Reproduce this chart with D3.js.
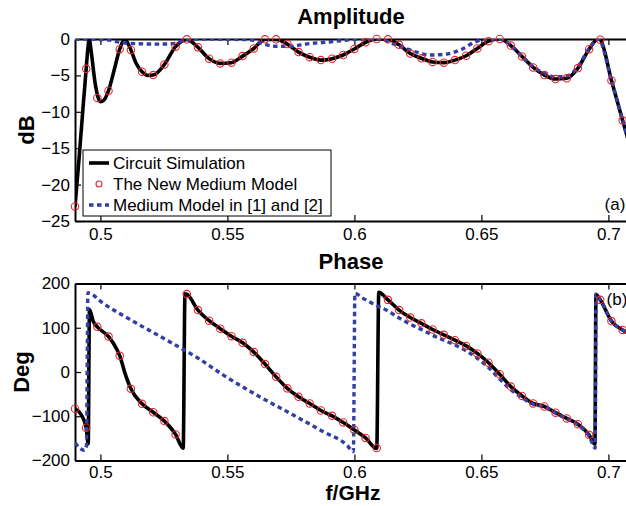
<!DOCTYPE html>
<html>
<head>
<meta charset="utf-8">
<script src="https://cdn.jsdelivr.net/npm/d3@7"></script>
<style>
  body { margin: 0; background: #fff; }
  svg { display: block; font-family: "Liberation Sans", Arial, sans-serif; }
</style>
</head>
<body>
<div id="chart"></div>
<script>
// sample grid of the new medium model (red circles)
var gridFreq = [0.4900, 0.4944, 0.4988, 0.5032, 0.5076, 0.5120, 0.5164, 0.5208, 0.5252, 0.5296,
    0.5340, 0.5384, 0.5428, 0.5472, 0.5516, 0.5560, 0.5604, 0.5648, 0.5692, 0.5736,
    0.5780, 0.5824, 0.5868, 0.5912, 0.5956, 0.6000, 0.6044, 0.6088, 0.6132, 0.6176,
    0.6220, 0.6264, 0.6308, 0.6352, 0.6396, 0.6440, 0.6484, 0.6528, 0.6572, 0.6616,
    0.6660, 0.6704, 0.6748, 0.6792, 0.6836, 0.6880, 0.6924, 0.6968, 0.7012, 0.7056, 0.7100];
var newAmp = [-23.0, -4.1, -8.1, -7.1, -1.4, -1.5, -4.5, -4.95, -3.5, -1.05,
    -0.05, -1.15, -2.7, -3.35, -3.25, -2.35, -1.3, -0.05, -0.05, -0.7,
    -1.8, -2.5, -2.9, -2.7, -2.2, -1.37, -0.45, 0, -0.05, -0.8,
    -2.0, -2.65, -3.15, -3.25, -2.9, -2.3, -1.3, -0.3, 0, -0.9,
    -2.4, -3.9, -4.95, -5.5, -5.4, -4.0, -1.4, -0.1, -5.7, -11.2, -16.5];
var newPhase = [-83, -126, 102, 80, 37, -38, -72, -91, -111, -141,
    176, 140, 116, 98, 81, 66, 45, 18, -11, -37,
    -56, -71, -87, -99, -114, -131, -149, -172, 163, 140,
    123, 110, 96, 84, 72, 59, 42, 21, -5, -33,
    -54, -71, -78, -92, -105, -118, -142, 163, 115, 95, 82];

// circuit simulation (black)
var circFreqA = [0.4900, 0.4916, 0.4931, 0.4944, 0.4951, 0.4956, 0.4963, 0.4979, 0.5000, 0.5014,
    0.5032, 0.5054, 0.5076, 0.5095, 0.5120, 0.5140, 0.5164, 0.5187, 0.5208, 0.5252,
    0.5296, 0.5340, 0.5384, 0.5428, 0.5472, 0.5516, 0.5560, 0.5604, 0.5648, 0.5692,
    0.5736, 0.5780, 0.5824, 0.5868, 0.5912, 0.5956, 0.6000, 0.6044, 0.6088, 0.6132,
    0.6176, 0.6220, 0.6264, 0.6308, 0.6352, 0.6396, 0.6440, 0.6484, 0.6528, 0.6572,
    0.6616, 0.6660, 0.6704, 0.6748, 0.6792, 0.6836, 0.6880, 0.6924, 0.6960, 0.6968,
    0.7012, 0.7056, 0.7100];
var circAmp = [-23.0, -16.4, -9.7, -4.1, -1.2, 0, -1.5, -6.0, -8.6, -8.4,
    -7.1, -4.3, -1.4, 0, -1.5, -3.3, -4.5, -5.0, -4.95, -3.5,
    -1.05, -0.05, -1.15, -2.7, -3.35, -3.25, -2.35, -1.3, -0.05, -0.05,
    -0.7, -1.8, -2.5, -2.9, -2.7, -2.2, -1.37, -0.45, 0, -0.05,
    -0.8, -2.0, -2.65, -3.15, -3.25, -2.9, -2.3, -1.3, -0.3, 0,
    -0.9, -2.4, -3.9, -4.95, -5.5, -5.4, -4.0, -1.4, 0, -0.1,
    -5.7, -11.2, -16.5];
var circFreqP = [0.4900, 0.4920, 0.4944, 0.4952, 0.4957, 0.4972, 0.4988, 0.5032, 0.5051, 0.5076,
    0.5097, 0.5120, 0.5164, 0.5208, 0.5252, 0.5296, 0.5326, 0.5333, 0.5340, 0.5384,
    0.5428, 0.5472, 0.5516, 0.5560, 0.5604, 0.5648, 0.5692, 0.5736, 0.5780, 0.5824,
    0.5868, 0.5912, 0.5956, 0.6000, 0.6044, 0.6088, 0.6096, 0.6132, 0.6176, 0.6220,
    0.6264, 0.6308, 0.6352, 0.6396, 0.6440, 0.6484, 0.6528, 0.6572, 0.6616, 0.6660,
    0.6704, 0.6748, 0.6792, 0.6836, 0.6880, 0.6924, 0.6947, 0.6951, 0.6968, 0.7012,
    0.7056, 0.7100];
var circPhase = [-83, -93, -126, -162, 141, 114, 102, 80, 65, 37,
    -3, -38, -72, -91, -111, -141, -172, 177, 176, 140,
    116, 98, 81, 66, 45, 18, -11, -37, -56, -71,
    -87, -99, -114, -131, -149, -173, 180, 163, 140, 123,
    110, 96, 84, 72, 59, 42, 21, -5, -33, -54,
    -71, -78, -92, -105, -118, -142, -163, 175, 163, 115,
    95, 82];

// medium model in [1] and [2] (blue dashed)
var refFreqA = [0.4900, 0.5026, 0.5084, 0.5144, 0.5235, 0.5294, 0.5325, 0.5352, 0.5589, 0.5636,
    0.5687, 0.5746, 0.5806, 0.5916, 0.6002, 0.6101, 0.6148, 0.6219, 0.6298, 0.6357,
    0.6417, 0.6476, 0.6522, 0.6569, 0.6616, 0.6660, 0.6704, 0.6748, 0.6792, 0.6836,
    0.6880, 0.6924, 0.6960, 0.7012, 0.7056, 0.7100];
var refAmp = [0, -0.1, -0.5, -0.65, -0.7, -0.6, -0.2, 0, -0.1, -0.6,
    -1.0, -1.0, -0.7, -0.35, -0.05, 0, -0.6, -1.5, -2.2, -2.1,
    -1.5, -0.4, 0, 0, -0.9, -2.4, -3.8, -4.7, -5.2, -5.1,
    -3.8, -1.3, 0, -5.7, -11.2, -16.5];
var refFreqP = [0.4900, 0.4937, 0.4945, 0.4951, 0.5011, 0.5143, 0.5274, 0.5385, 0.5484, 0.5615,
    0.5746, 0.5878, 0.5970, 0.5996, 0.6002, 0.6030, 0.6080, 0.6132, 0.6176, 0.6220,
    0.6264, 0.6308, 0.6352, 0.6396, 0.6440, 0.6484, 0.6528, 0.6572, 0.6616, 0.6660,
    0.6704, 0.6748, 0.6792, 0.6836, 0.6880, 0.6924, 0.6948, 0.6951, 0.6968, 0.7012,
    0.7056, 0.7100];
var refPhase = [-160, -177, -168, 179, 155, 110, 68, 31, -7, -52,
    -93, -135, -165, -180, 178, 168, 152, 138, 122, 108,
    96, 83, 72, 61, 48, 31, 10, -16, -40, -58,
    -73, -79, -93, -106, -120, -145, -172, 176, 163, 115,
    95, 82];

var xTicks = [0.5, 0.55, 0.6, 0.65, 0.7];
var ampTicks = [0, -5, -10, -15, -20, -25];
var phaseTicks = [-200, -100, 0, 100, 200];
var legendNames = ["Circuit Simulation", "The New Medium Model", "Medium Model in [1] and [2]"];

function init() {
    const w = 626;
    const h = 506;
    const left = 75;
    const fontSize = 17;

    var svg = d3.select("#chart")
        .append("svg")
        .attr("width", w)
        .attr("height", h);

    svg.append("rect").attr("width", w).attr("height", h).attr("fill", "#fff");

    // x runs past the right edge of the picture, as in the original crop
    var xScale = d3.scaleLinear()
        .domain([0.49, 0.71])
        .range([left, left + 0.22 * 2540]);

    var yAmp = d3.scaleLinear().domain([-25, 0]).range([221, 39]);
    var yPhase = d3.scaleLinear().domain([-200, 200]).range([460.5, 283.5]);

    var blue = "#343fa3";

    function panel(yScale, ticks, name, pad) {
        var g = svg.append("g");
        var y0 = yScale.range()[0], y1 = yScale.range()[1];

        // clip for the lines
        svg.append("clipPath").attr("id", "clip-" + name)
            .append("rect")
            .attr("x", left).attr("y", y1)
            .attr("width", xScale.range()[1] - left)
            .attr("height", y0 - y1);

        var axB = g.append("g")
            .attr("transform", "translate(0," + y0 + ")")
            .call(d3.axisBottom(xScale).tickValues(xTicks).tickSize(-6).tickSizeOuter(0)
                .tickPadding(pad).tickFormat(d3.format("")));
        var axT = g.append("g")
            .attr("transform", "translate(0," + y1 + ")")
            .call(d3.axisTop(xScale).tickValues(xTicks).tickSize(-6).tickSizeOuter(0)
                .tickFormat(""));
        var axL = g.append("g")
            .attr("transform", "translate(" + left + ",0)")
            .call(d3.axisLeft(yScale).tickValues(ticks).tickSize(-6).tickSizeOuter(0)
                .tickPadding(5));

        [axB, axT, axL].forEach(function (a) {
            a.selectAll(".domain").attr("stroke", "#000").attr("stroke-width", 2);
            a.selectAll(".tick line").attr("stroke", "#000").attr("stroke-width", 1.2);
            a.selectAll("text")
                .attr("fill", "#000")
                .style("font-size", fontSize + "px")
                .style("font-family", '"Liberation Sans", Arial, sans-serif');
        });
        return g;
    }

    function drawSeries(g, yScale, name, cf, cv, rf, rv, nv) {
        var circuit = cf.map((f, i) => [f, cv[i]]);
        var ref = rf.map((f, i) => [f, rv[i]]);
        var pts = gridFreq.map((f, i) => [f, nv[i]]);

        var line = d3.line()
            .x((d) => xScale(d[0]))
            .y((d) => yScale(d[1]))
            .curve(d3.curveMonotoneX);

        var lines = g.append("g").attr("clip-path", "url(#clip-" + name + ")");
        lines.append("path")
            .datum(circuit)
            .attr("d", line)
            .attr("fill", "none")
            .attr("stroke", "#000")
            .attr("stroke-width", 3.6)
            .attr("stroke-linejoin", "round");
        lines.append("path")
            .datum(ref)
            .attr("d", line)
            .attr("fill", "none")
            .attr("stroke", blue)
            .attr("stroke-width", 3.4)
            .attr("stroke-dasharray", "4.5,3.5");

        g.selectAll("circle.pt-" + name)
            .data(pts)
            .enter()
            .append("circle")
            .attr("cx", (d) => xScale(d[0]))
            .attr("cy", (d) => yScale(d[1]))
            .attr("r", 3.7)
            .attr("fill", "none")
            .attr("stroke", "#e8242b")
            .attr("stroke-width", 1.1);
    }

    var top = panel(yAmp, ampTicks, "amp", 7);
    var bottom = panel(yPhase, phaseTicks, "phase", 5);

    drawSeries(top, yAmp, "amp", circFreqA, circAmp, refFreqA, refAmp, newAmp);
    drawSeries(bottom, yPhase, "phase", circFreqP, circPhase, refFreqP, refPhase, newPhase);

    // titles and labels
    var bold = { "font-weight": "bold", "font-size": "22px" };
    function label(x, y, txt, rot, opts) {
        var t = svg.append("text")
            .attr("x", x).attr("y", y)
            .attr("text-anchor", "middle")
            .attr("fill", "#000")
            .text(txt);
        if (rot) t.attr("transform", "rotate(-90," + x + "," + y + ")");
        Object.keys(opts).forEach((k) => t.style(k, opts[k]));
        return t;
    }
    label(351, 24, "Amplitude", false, bold);
    label(351, 269, "Phase", false, bold);
    label(34, 130, "dB", true, bold);
    label(29, 372, "Deg", true, bold);
    label(353, 500, "f/GHz", false, { "font-weight": "bold", "font-size": "21px" });
    label(615, 210, "(a)", false, { "font-size": fontSize + "px" });
    label(617, 305, "(b)", false, { "font-size": fontSize + "px" });

    // legend
    var lg = svg.append("g");
    lg.append("rect")
        .attr("x", 83).attr("y", 150)
        .attr("width", 248).attr("height", 66)
        .attr("fill", "#fff")
        .attr("stroke", "#000")
        .attr("stroke-width", 1);

    var items = lg.selectAll("g.item")
        .data(legendNames)
        .enter()
        .append("g")
        .attr("transform", (d, i) => "translate(0," + (163 + i * 21) + ")");

    items.each(function (d, i) {
        var it = d3.select(this);
        if (i === 0) {
            it.append("line").attr("x1", 89).attr("x2", 109)
                .attr("stroke", "#000").attr("stroke-width", 3.6);
        } else if (i === 1) {
            it.append("circle").attr("cx", 99).attr("r", 3)
                .attr("fill", "none").attr("stroke", "#e8242b").attr("stroke-width", 1.1);
        } else {
            it.append("line").attr("x1", 89).attr("x2", 109)
                .attr("stroke", blue).attr("stroke-width", 3.4)
                .attr("stroke-dasharray", "4.5,3.5");
        }
        it.append("text")
            .attr("x", 113)
            .attr("dy", "0.36em")
            .attr("fill", "#000")
            .style("font-size", fontSize + "px")
            .text(d);
    });
}
window.onload = init;
</script>
</body>
</html>
